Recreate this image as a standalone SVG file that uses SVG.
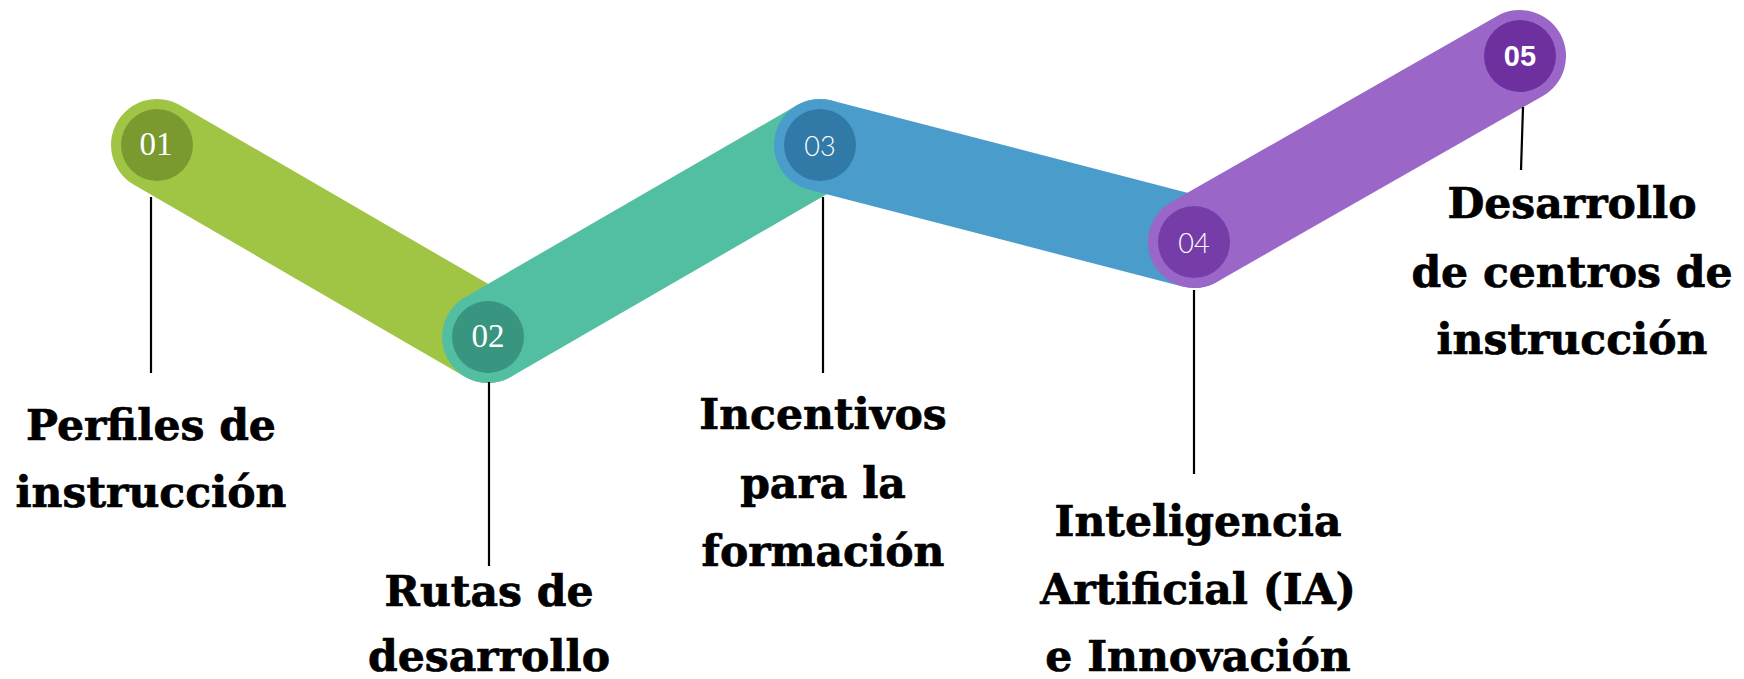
<svg xmlns="http://www.w3.org/2000/svg" width="1744" height="679" viewBox="0 0 1744 679">
<style>
.band{fill:none;stroke-width:92;stroke-linecap:round}
.lead{stroke:#000;stroke-width:2.2;fill:none}
.lbl{font-family:"DejaVu Serif","Liberation Serif",serif;font-weight:bold;font-size:42.5px;fill:#000;stroke:#000;stroke-width:0.7;text-anchor:middle}
.num{fill:#fff;text-anchor:middle;dominant-baseline:central}
.serifnum{font-family:"Liberation Serif",serif;font-size:33px}
.sansnum{font-family:Lato,"Open Sans",sans-serif;font-weight:300;font-size:27px}
.boldnum{font-family:"Liberation Sans",Arial,sans-serif;font-weight:bold;font-size:29px}
</style>
<rect width="1744" height="679" fill="#fff"/>
<g id="connectors">
<line class="band" x1="157" y1="145" x2="488" y2="337" stroke="#A0C544"/>
<line class="band" x1="488" y1="337" x2="820" y2="145" stroke="#52BFA3"/>
<line class="band" x1="820" y1="145" x2="1194" y2="242" stroke="#4A9DCB"/>
<line class="band" x1="1194" y1="242" x2="1520" y2="56" stroke="#9A66C8"/>
<line class="lead" x1="151" y1="197" x2="151" y2="373"/>
<line class="lead" x1="489" y1="382" x2="489" y2="566"/>
<line class="lead" x1="823" y1="197" x2="823" y2="373"/>
<line class="lead" x1="1194" y1="290" x2="1194" y2="474"/>
<line class="lead" x1="1523" y1="107" x2="1521" y2="170"/>
</g>
<g id="node1">
<circle cx="157" cy="145" r="36" fill="#7A9A30"/>
<text class="num serifnum" x="156" y="144">01</text>
<text class="lbl" x="151" y="440">Perfiles de</text>
<text class="lbl" x="151" y="507">instrucción</text>
</g>
<g id="node2">
<circle cx="488" cy="337" r="36" fill="#38957F"/>
<text class="num serifnum" x="488" y="336">02</text>
<text class="lbl" x="489" y="606">Rutas de</text>
<text class="lbl" x="489" y="671">desarrollo</text>
</g>
<g id="node3">
<circle cx="820" cy="145" r="36" fill="#3179A6"/>
<text class="num sansnum" x="820" y="145">03</text>
<text class="lbl" x="823" y="429">Incentivos</text>
<text class="lbl" x="823" y="498">para la</text>
<text class="lbl" x="823" y="566">formación</text>
</g>
<g id="node4">
<circle cx="1194" cy="242" r="36" fill="#763DA8"/>
<text class="num sansnum" x="1194" y="242">04</text>
<text class="lbl" x="1198" y="536">Inteligencia</text>
<text class="lbl" x="1198" y="604">Artificial (IA)</text>
<text class="lbl" x="1198" y="671">e Innovación</text>
</g>
<g id="node5">
<circle cx="1520" cy="56" r="36" fill="#6E2F9F"/>
<text class="num boldnum" x="1520" y="56">05</text>
<text class="lbl" x="1572" y="218">Desarrollo</text>
<text class="lbl" x="1572" y="287">de centros de</text>
<text class="lbl" x="1572" y="354">instrucción</text>
</g>
</svg>
